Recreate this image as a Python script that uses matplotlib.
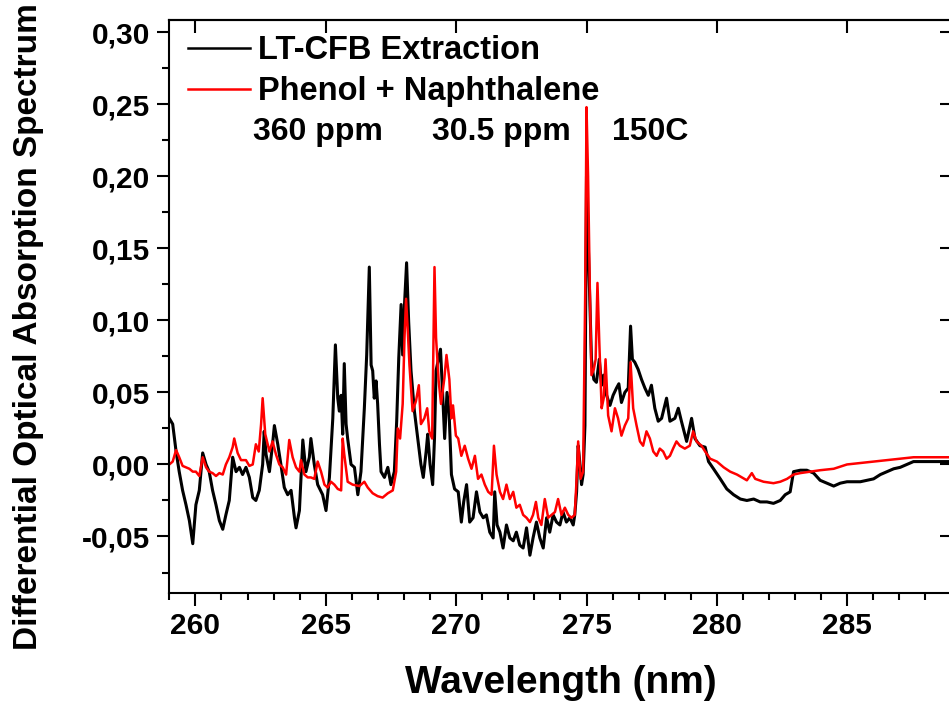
import matplotlib
matplotlib.use("Agg")
import matplotlib.pyplot as plt
from matplotlib.ticker import MultipleLocator

plt.rcParams['font.family'] = ['Liberation Sans', 'DejaVu Sans']
plt.rcParams['font.weight'] = 'bold'

# ---------------- data ----------------
black_x = [259.00, 259.13, 259.26, 259.38, 259.51, 259.64, 259.77, 259.90, 260.02, 260.15,
           260.28, 260.41, 260.53, 260.66, 260.79, 260.92, 261.05, 261.17, 261.30, 261.43,
           261.56, 261.69, 261.81, 261.94, 262.07, 262.20, 262.32, 262.45, 262.58, 262.64,
           262.71, 262.84, 262.96, 263.03, 263.16, 263.28, 263.41, 263.54, 263.67, 263.80,
           263.86, 263.99, 264.12, 264.24, 264.37, 264.43, 264.56, 264.69, 264.88, 265.01,
           265.14, 265.27, 265.37, 265.46, 265.52, 265.59, 265.65, 265.71, 265.78, 265.84,
           265.97, 266.10, 266.23, 266.35, 266.48, 266.57, 266.67, 266.74, 266.80, 266.86,
           266.93, 266.99, 267.06, 267.12, 267.25, 267.38, 267.50, 267.63, 267.72, 267.80,
           267.89, 267.95, 268.02, 268.10, 268.18, 268.27, 268.40, 268.53, 268.65, 268.74,
           268.85, 268.91, 269.00, 269.10, 269.17, 269.23, 269.33, 269.40, 269.48, 269.56,
           269.65, 269.73, 269.82, 269.94, 270.08, 270.20, 270.29, 270.40, 270.52, 270.65,
           270.78, 270.91, 271.04, 271.16, 271.29, 271.42, 271.48, 271.57, 271.68, 271.80,
           271.93, 272.06, 272.19, 272.31, 272.44, 272.57, 272.70, 272.83, 272.95, 273.08,
           273.21, 273.34, 273.47, 273.59, 273.72, 273.85, 273.98, 274.10, 274.23, 274.36,
           274.49, 274.55, 274.62, 274.68, 274.74, 274.81, 274.87, 274.94, 275.00, 275.10,
           275.19, 275.28, 275.38, 275.49, 275.58, 275.66, 275.77, 275.90, 276.02, 276.15,
           276.24, 276.34, 276.47, 276.60, 276.69, 276.76, 276.85, 276.98, 277.11, 277.24,
           277.37, 277.49, 277.62, 277.75, 277.88, 278.07, 278.20, 278.39, 278.52, 278.64,
           278.84, 279.03, 279.16, 279.35, 279.55, 279.68, 279.87, 280.13, 280.38, 280.64,
           280.90, 281.15, 281.41, 281.66, 281.92, 282.17, 282.43, 282.62, 282.81, 282.94,
           283.20, 283.45, 283.71, 283.96, 284.22, 284.48, 284.73, 284.99, 285.24, 285.50,
           285.75, 286.01, 286.27, 286.52, 286.78, 287.03, 287.29, 287.54, 287.80, 288.06,
           288.31, 288.91, 289.00]
black_y = [0.032, 0.028, 0.009, -0.005, -0.018, -0.028, -0.039, -0.055, -0.028, -0.018,
           0.008, 0.000, -0.005, -0.018, -0.028, -0.039, -0.045, -0.035, -0.025, 0.005,
           -0.005, -0.002, -0.007, -0.002, -0.009, -0.023, -0.025, -0.018, 0.000, 0.023,
           0.007, -0.005, 0.014, 0.027, 0.014, 0.000, -0.016, -0.021, -0.018, -0.037,
           -0.044, -0.032, 0.017, -0.005, 0.005, 0.018, 0.000, -0.014, -0.021, -0.032,
           -0.009, 0.032, 0.083, 0.046, 0.037, 0.048, 0.021, 0.070, 0.028, 0.018,
           0.000, -0.002, -0.021, -0.005, 0.039, 0.076, 0.137, 0.069, 0.065, 0.046,
           0.058, 0.042, 0.014, -0.005, -0.009, -0.002, -0.014, -0.005, 0.030, 0.074,
           0.111, 0.076, 0.111, 0.140, 0.099, 0.065, 0.037, 0.018, 0.000, -0.009,
           0.009, 0.021, 0.000, -0.014, 0.018, 0.065, 0.074, 0.080, 0.050, 0.018,
           0.050, 0.036, -0.007, -0.017, -0.019, -0.040, -0.026, -0.014, -0.040, -0.037,
           -0.019, -0.033, -0.037, -0.035, -0.047, -0.051, -0.019, -0.042, -0.047, -0.058,
           -0.042, -0.051, -0.053, -0.047, -0.056, -0.058, -0.044, -0.063, -0.051, -0.040,
           -0.051, -0.058, -0.037, -0.047, -0.035, -0.040, -0.042, -0.033, -0.040, -0.037,
           -0.042, -0.035, -0.019, 0.013, 0.002, -0.014, -0.007, 0.027, 0.200, 0.131,
           0.073, 0.059, 0.057, 0.073, 0.055, 0.062, 0.048, 0.041, 0.048, 0.053,
           0.056, 0.043, 0.050, 0.053, 0.096, 0.073, 0.071, 0.066, 0.059, 0.053,
           0.048, 0.055, 0.039, 0.030, 0.032, 0.046, 0.030, 0.032, 0.039, 0.030,
           0.016, 0.032, 0.018, 0.013, 0.012, 0.002, -0.003, -0.010, -0.017, -0.021,
           -0.024, -0.025, -0.024, -0.026, -0.026, -0.027, -0.025, -0.021, -0.019, -0.005,
           -0.004, -0.004, -0.006, -0.011, -0.013, -0.015, -0.013, -0.012, -0.012, -0.012,
           -0.011, -0.010, -0.007, -0.005, -0.003, -0.002, 0.000, 0.002, 0.002, 0.002,
           0.002, 0.002, 0.002]

red_x = [259.00, 259.13, 259.26, 259.38, 259.51, 259.64, 259.77, 259.90, 260.02, 260.15,
         260.28, 260.41, 260.53, 260.66, 260.79, 260.92, 261.05, 261.17, 261.30, 261.43,
         261.49, 261.62, 261.75, 261.94, 262.07, 262.20, 262.32, 262.43, 262.52, 262.58,
         262.68, 262.84, 262.96, 263.09, 263.22, 263.35, 263.48, 263.60, 263.73, 263.86,
         263.99, 264.05, 264.18, 264.31, 264.43, 264.56, 264.69, 264.82, 264.95, 265.07,
         265.20, 265.33, 265.46, 265.59, 265.65, 265.71, 265.84, 266.03, 266.29, 266.48,
         266.61, 266.80, 266.99, 267.18, 267.38, 267.57, 267.70, 267.76, 267.85, 267.95,
         268.02, 268.08, 268.14, 268.21, 268.33, 268.46, 268.57, 268.65, 268.78, 268.89,
         268.97, 269.08, 269.17, 269.23, 269.33, 269.42, 269.55, 269.63, 269.74, 269.82,
         269.88, 269.99, 270.08, 270.20, 270.33, 270.46, 270.59, 270.72, 270.84, 270.97,
         271.10, 271.23, 271.36, 271.45, 271.55, 271.68, 271.80, 271.93, 272.06, 272.19,
         272.31, 272.44, 272.57, 272.70, 272.83, 272.95, 273.06, 273.15, 273.27, 273.40,
         273.53, 273.66, 273.79, 273.91, 274.04, 274.17, 274.30, 274.42, 274.55, 274.62,
         274.68, 274.77, 274.87, 274.95, 275.00, 275.06, 275.13, 275.19, 275.28, 275.35,
         275.42, 275.49, 275.58, 275.66, 275.73, 275.83, 275.96, 276.09, 276.21, 276.34,
         276.47, 276.60, 276.69, 276.79, 276.92, 277.05, 277.17, 277.30, 277.43, 277.56,
         277.69, 277.81, 277.94, 278.07, 278.20, 278.32, 278.45, 278.58, 278.77, 278.96,
         279.09, 279.22, 279.41, 279.55, 279.74, 280.00, 280.26, 280.51, 280.77, 281.15,
         281.34, 281.47, 281.79, 282.17, 282.43, 282.69, 282.94, 283.20, 283.58, 283.96,
         284.48, 284.99, 285.50, 286.01, 286.52, 287.03, 287.54, 288.31, 288.91, 289.00]
red_y = [0.000, 0.002, 0.010, 0.005, -0.001, -0.002, -0.003, -0.005, -0.005, -0.008,
         0.005, -0.002, -0.005, -0.006, -0.008, -0.006, -0.007, 0.000, 0.005, 0.012,
         0.018, 0.008, 0.003, 0.003, -0.001, 0.000, 0.014, 0.009, 0.028, 0.046,
         0.021, 0.009, 0.016, 0.007, 0.000, -0.002, -0.007, 0.017, 0.005, -0.002,
         -0.005, 0.003, -0.007, -0.009, -0.009, -0.010, 0.002, -0.005, -0.014, -0.016,
         -0.012, -0.014, -0.017, -0.018, 0.018, 0.007, -0.012, -0.014, -0.015, -0.012,
         -0.016, -0.020, -0.022, -0.023, -0.020, -0.018, -0.005, 0.025, 0.018, 0.042,
         0.088, 0.115, 0.095, 0.069, 0.037, 0.044, 0.055, 0.028, 0.032, 0.039,
         0.023, 0.018, 0.137, 0.088, 0.058, 0.042, 0.060, 0.076, 0.059, 0.032,
         0.041, 0.020, 0.018, 0.006, 0.013, 0.004, -0.003, 0.006, -0.010, -0.007,
         -0.014, -0.019, -0.021, 0.013, -0.007, -0.019, -0.024, -0.014, -0.024, -0.019,
         -0.030, -0.028, -0.035, -0.037, -0.040, -0.035, -0.026, -0.037, -0.042, -0.024,
         -0.037, -0.035, -0.033, -0.024, -0.035, -0.030, -0.035, -0.037, -0.035, -0.010,
         0.016, -0.010, -0.005, 0.119, 0.248, 0.200, 0.119, 0.062, 0.066, 0.073,
         0.126, 0.085, 0.039, 0.046, 0.073, 0.034, 0.023, 0.039, 0.032, 0.020,
         0.027, 0.032, 0.071, 0.039, 0.027, 0.016, 0.013, 0.023, 0.018, 0.009,
         0.006, 0.011, 0.009, 0.004, 0.006, 0.011, 0.016, 0.013, 0.011, 0.013,
         0.023, 0.016, 0.013, 0.009, 0.004, 0.002, -0.002, -0.005, -0.007, -0.011,
         -0.006, -0.010, -0.012, -0.013, -0.012, -0.010, -0.007, -0.006, -0.005, -0.004,
         -0.003, 0.000, 0.001, 0.002, 0.003, 0.004, 0.005, 0.005, 0.005, 0.005]

series_labels = ["LT-CFB Extraction", "Phenol + Naphthalene"]
annotations = ["360 ppm", "30.5 ppm", "150C"]
x_ticks = [260, 265, 270, 275, 280, 285]
y_ticks = [-0.05, 0.00, 0.05, 0.10, 0.15, 0.20, 0.25, 0.30]
y_tick_labels = ["-0,05", "0,00", "0,05", "0,10", "0,15", "0,20", "0,25", "0,30"]

# ---------------- figure ----------------
fig = plt.figure(figsize=(9.49, 7.06), dpi=100)
ax = fig.add_axes([0.1784, 0.1605, 0.8243, 0.8112])

ax.plot(black_x, black_y, color='black', lw=2.2, label=series_labels[0])
ax.plot(red_x, red_y, color='#ff0000', lw=1.8, label=series_labels[1])

ax.set_xlim(259, 289)
ax.set_ylim(-0.089, 0.3085)

ax.set_xticks(x_ticks)
ax.set_xticklabels([str(t) for t in x_ticks])
ax.set_yticks(y_ticks)
ax.set_yticklabels(y_tick_labels)
ax.xaxis.set_minor_locator(MultipleLocator(1))
ax.yaxis.set_minor_locator(MultipleLocator(0.025))

ax.tick_params(which='major', direction='out', length=9, width=1.5,
               labelsize=21.5, pad=5, top=False, right=False)
ax.tick_params(which='minor', direction='out', length=5, width=1.5,
               top=False, right=False)
for lab in ax.get_xticklabels() + ax.get_yticklabels():
    lab.set_fontweight('bold')

for s in ax.spines.values():
    s.set_linewidth(1.5)

sec_x = ax.secondary_xaxis('top')
sec_x.set_xticks(x_ticks)
sec_x.tick_params(direction='in', length=9, width=1.5, labeltop=False)
sec_x.spines['top'].set_linewidth(1.5)
sec_y = ax.secondary_yaxis('right')
sec_y.set_yticks(y_ticks)
sec_y.tick_params(direction='in', length=9, width=1.5, labelright=False)

ax.set_xlabel("Wavelength (nm)", fontsize=28, fontweight='bold')
ax.set_ylabel("Differential Optical Absorption Spectrum", fontsize=24, fontweight='bold')
ax.xaxis.set_label_coords(0.5, -0.126)
ax.yaxis.set_label_coords(-0.160, 0.464)

leg = ax.legend(loc='upper left', bbox_to_anchor=(0.0235, 0.973), frameon=False,
                fontsize=23.5, handlelength=1.9, handletextpad=0.25,
                labelspacing=0.3, borderpad=0, borderaxespad=0)
for t in leg.get_texts():
    t.set_fontweight('bold')
for h in leg.legend_handles:
    h.set_linewidth(1.8)

ann_x = [0.107, 0.336, 0.566]
for xp, txt in zip(ann_x, annotations):
    ax.text(xp, 0.790, txt, transform=ax.transAxes, fontsize=23,
            fontweight='bold', va='baseline', ha='left')

fig.savefig("out.png", dpi=100)
